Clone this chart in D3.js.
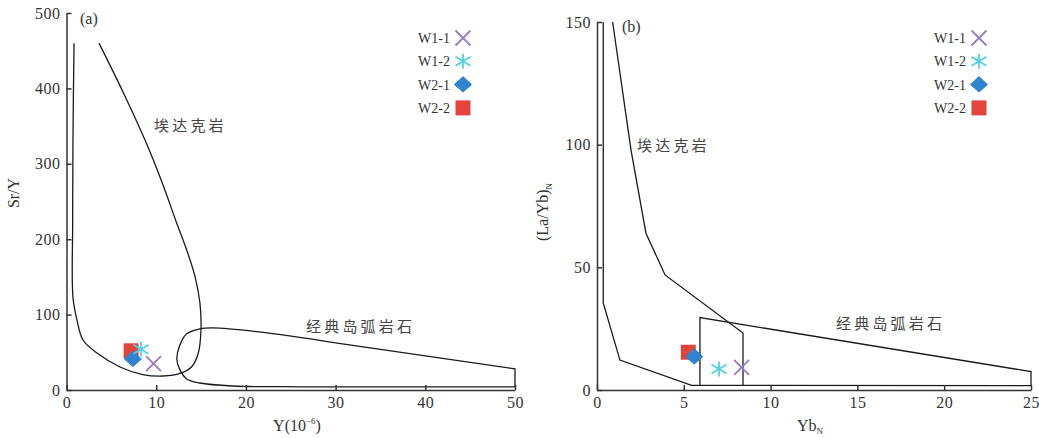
<!DOCTYPE html>
<html><head><meta charset="utf-8">
<script src="https://cdn.jsdelivr.net/npm/d3@7"></script>
<style>
html,body{margin:0;padding:0;background:#fff;}
svg{display:block;}
</style></head>
<body>
<script>
// ---------- DATA ----------
const seriesNames = ["W1-1","W1-2","W2-1","W2-2"];
// panel (a): Y (10^-6) vs Sr/Y
const aX = [9.7, 8.3, 7.4, 7.2];
const aY = [35, 54, 41, 52];
// panel (b): YbN vs (La/Yb)N
const bX = [8.33, 7.03, 5.6, 5.26];
const bY = [9.2, 8.6, 13.6, 15.4];

const aXTicks = [0,10,20,30,40,50];
const aYTicks = [0,100,200,300,400,500];
const bXTicks = [0,5,10,15,20,25];
const bYTicks = [0,50,100,150];

// field boundaries (a)
const aAdakite = [[0.84,460],[0.72,330],[0.69,225],[0.72,123],[1.17,92.8],[1.84,66.3],[3.4,49],[5.96,30.5],[8.5,20.5],[10.79,18.6],[12.65,21.9],[13.96,30.9],[14.69,48.7],[14.99,79.6],[14.88,115],[14.33,150.3],[13.4,185.7],[12.29,221.1],[10.7,274],[8.75,331.6],[6.35,394],[3.62,460]];
const aArcCurve = [[30,62.5],[21.5,77],[16.3,82.4],[14.84,81],[13.4,74.5],[12.6,58.5],[12.3,41],[12.6,28],[13.4,14.6],[14.84,9.3],[18.5,5.3],[23.8,4.4],[30,4.2]];
const aArcLine = [[30,4.2],[50,4.2],[50,28],[30,62.5]];
// field boundaries (b)
const bAdakiteLeft = [[0.36,150],[0.36,35.5],[1.32,12.2],[5.45,1.9],[25,1.8]];
const bAdakiteRight = [[0.9,150],[1.96,97.8],[2.82,63.9],[3.92,46.9],[8.41,23.2],[8.41,1.85]];
const bArc = [[5.93,1.85],[5.93,29.5],[25,7.5],[25,1.8]];

const colors = ["#9a7cc6","#4fd0e6","#2f83cf","#e2443e"];
const shapes = ["x","star","diamond","square"];

// ---------- DRAW ----------
const W=1039,H=438;
const svg = d3.select("body").append("svg").attr("width",W).attr("height",H);
const serif = "'Liberation Serif','Times New Roman',serif";
const cjk = "'Noto Sans CJK SC','Noto Sans CJK JP',sans-serif";
const axisColor="#333";

function marker(g, shape, cx, cy, color){
  const s = 7.5;
  if(shape==="x"){
    g.append("path").attr("d",`M${cx-s},${cy-s}L${cx+s},${cy+s}M${cx-s},${cy+s}L${cx+s},${cy-s}`)
      .attr("stroke",color).attr("stroke-width",1.8).attr("fill","none");
  } else if(shape==="star"){
    const r=7.5;
    g.append("path").attr("d",`M${cx},${cy-r}L${cx},${cy+r}M${cx-r},${cy-r*0.6}L${cx+r},${cy+r*0.6}M${cx-r},${cy+r*0.6}L${cx+r},${cy-r*0.6}`)
      .attr("stroke",color).attr("stroke-width",1.8).attr("fill","none");
  } else if(shape==="diamond"){
    g.append("path").attr("d",`M${cx},${cy-8}L${cx+8.5},${cy}L${cx},${cy+7.5}L${cx-8.5},${cy}Z`)
      .attr("fill",color).attr("stroke",color).attr("stroke-width",1).attr("stroke-linejoin","round");
  } else {
    g.append("rect").attr("x",cx-7.5).attr("y",cy-7.5).attr("width",15).attr("height",15).attr("fill",color);
  }
}

function panel(opt){
  const g = svg.append("g");
  const x = d3.scaleLinear().domain(opt.xd).range(opt.xr);
  const y = d3.scaleLinear().domain(opt.yd).range(opt.yr);
  const curve = d3.line().x(d=>x(d[0])).y(d=>y(d[1])).curve(d3.curveCatmullRom.alpha(0.5));
  const lin = d3.line().x(d=>x(d[0])).y(d=>y(d[1]));
  (opt.curves||[]).forEach(c=>g.append("path").attr("d",curve(c)).attr("fill","none").attr("stroke","#1a1a1a").attr("stroke-width",1.3));
  (opt.lines||[]).forEach(c=>g.append("path").attr("d",lin(c)).attr("fill","none").attr("stroke","#1a1a1a").attr("stroke-width",1.3).attr("stroke-linejoin","miter"));
  const xa = g.append("g").attr("transform",`translate(0,${opt.yr[0]})`)
    .call(d3.axisBottom(x).tickValues(opt.xt).tickSizeInner(-5).tickSizeOuter(0).tickPadding(7));
  const ya = g.append("g").attr("transform",`translate(${opt.xr[0]},0)`)
    .call(d3.axisLeft(y).tickValues(opt.yt).tickSizeInner(-5).tickSizeOuter(0).tickPadding(6));
  [xa,ya].forEach(a=>{
    a.selectAll("path,line").attr("stroke",axisColor).attr("stroke-width",1.5);
    a.selectAll("text").attr("font-family",serif).attr("font-size",16).attr("fill","#333").attr("letter-spacing",0.5);
  });
  [3,2,1,0].forEach(i=>marker(g, shapes[i], x(opt.px[i]), y(opt.py[i]), colors[i]));
  g.append("text").attr("x",opt.tag[0]).attr("y",opt.tag[1]).text(opt.tagText)
    .attr("font-family",serif).attr("font-size",16).attr("fill","#333");
  opt.labels.forEach(l=>g.append("text").attr("x",l[0]).attr("y",l[1]).text(l[2])
    .attr("font-family",cjk).attr("font-size",15).attr("letter-spacing",3.2).attr("fill","#444"));
  seriesNames.forEach((n,i)=>{
    const ly = opt.leg[1] + i*23.3;
    g.append("text").attr("x",opt.leg[0]).attr("y",ly+5).text(n).attr("text-anchor","end")
      .attr("font-family",serif).attr("font-size",14).attr("fill","#333");
    marker(g, shapes[i], opt.leg[0]+13, ly, colors[i]);
  });
  return {g,x,y};
}

const A = panel({xd:[0,50], xr:[66.5,515], yd:[0,500], yr:[390,13], xt:aXTicks, yt:aYTicks,
  curves:[aAdakite,aArcCurve], lines:[aArcLine], px:aX, py:aY,
  tag:[80,24], tagText:"(a)",
  labels:[[154,131,"埃达克岩"],[306,332,"经典岛弧岩石"]],
  leg:[450,38]});
const B = panel({xd:[0,25], xr:[597,1031], yd:[0,150], yr:[390,22], xt:bXTicks, yt:bYTicks,
  curves:[], lines:[bAdakiteLeft,bAdakiteRight,bArc], px:bX, py:bY,
  tag:[622,32], tagText:"(b)",
  labels:[[637,151,"埃达克岩"],[836,329,"经典岛弧岩石"]],
  leg:[966,38]});

// axis titles
svg.append("text").attr("transform","translate(19,193) rotate(-90)").attr("text-anchor","middle")
  .attr("font-family",serif).attr("font-size",16).attr("fill","#333").text("Sr/Y");
const t2 = svg.append("text").attr("transform","translate(548,212) rotate(-90)").attr("text-anchor","middle")
  .attr("font-family",serif).attr("font-size",16).attr("fill","#333");
t2.append("tspan").text("(La/Yb)");
t2.append("tspan").attr("font-size",9).attr("dy",4).text("N");
const t3 = svg.append("text").attr("x",297).attr("y",431).attr("text-anchor","middle")
  .attr("font-family",serif).attr("font-size",16).attr("fill","#333");
t3.append("tspan").text("Y(10");
t3.append("tspan").attr("font-size",9).attr("dy",-7).text("−6");
t3.append("tspan").attr("dy",7).text(")");
const t4 = svg.append("text").attr("x",810).attr("y",431).attr("text-anchor","middle")
  .attr("font-family",serif).attr("font-size",16).attr("fill","#333");
t4.append("tspan").text("Yb");
t4.append("tspan").attr("font-size",9).attr("dy",3).text("N");
</script>
</body></html>
